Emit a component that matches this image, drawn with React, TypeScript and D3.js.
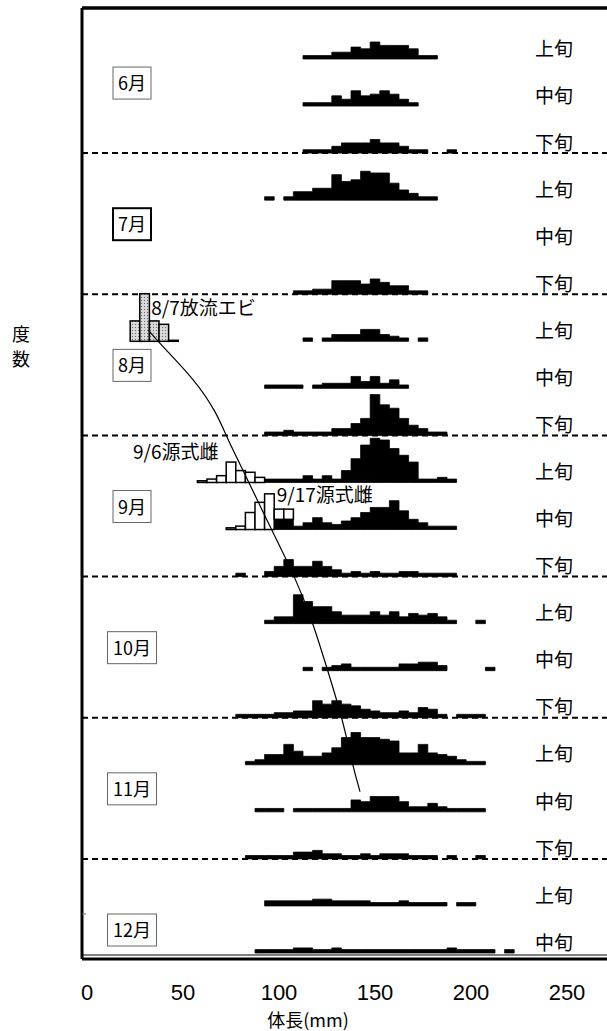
import * as d3 from "d3";

const W = 607;
const H = 1031;

const months = ["6月", "7月", "8月", "9月", "10月", "11月", "12月"];
const periods = ["上旬", "中旬", "下旬"];
const xTicks = [0, 50, 100, 150, 200, 250];

// 5mm bins, first value is the bin centred on rowStart[i]
const rowStart = [115, 115, 115, 95, 0, 110, 115, 95, 95, 95, 100, 80, 95, 115, 80, 85, 90, 85, 95, 90];
const jun1 = [1, 1, 1, 2, 2, 3.5, 3, 5, 4, 4, 4, 3, 1, 1];
const jun2 = [1, 1, 1, 3, 2, 4.5, 3, 3.5, 4.5, 3.5, 2, 1];
const jun3 = [1, 1, 1, 2, 3, 3, 3, 4, 3, 3, 2, 1, 1, 0, 0, 1];
const jul1 = [1, 0, 1, 2.5, 2.5, 3.5, 3.5, 7.5, 5.5, 6, 8.5, 8, 8, 5, 3, 2, 1, 1];
const jul2: number[] = [];
const jul3 = [1, 1, 1.5, 1.5, 4, 4, 4, 3, 4.5, 3.5, 2.5, 2.5, 1, 1];
const aug1 = [1, 0, 1, 2, 2, 2, 3.5, 3.5, 2, 1.5, 1, 0, 1];
const aug2 = [1, 1, 1, 1, 0, 1, 1.5, 1.5, 1.5, 3.5, 2, 3.5, 1.5, 2.5, 1];
const aug3 = [1, 1, 1.5, 1, 1, 1, 1, 2, 2, 3.5, 5, 12, 9, 8, 5, 3, 2, 1, 1];
const sep1 = [1, 1, 1, 1, 2, 1, 2, 1, 3.5, 7, 11, 13, 12.5, 10, 8, 6, 1, 1, 1.5, 1];
const sep2 = [3, 3, 1, 2, 3.5, 2, 1.5, 2.5, 3.5, 5, 6.5, 6.5, 8.5, 5.5, 3, 2, 1, 1, 1];
const sep3 = [1, 0, 0, 1.5, 3, 5, 3, 3, 4.5, 3, 2, 1, 1.5, 1, 1.5, 1, 1, 1.5, 1.5, 1, 1, 1, 1];
const oct1 = [1, 2, 2, 8.5, 6.5, 5, 5, 3.5, 2.5, 2.5, 2.5, 3.5, 2.5, 3.5, 2, 3, 2.5, 3, 2, 1, 0, 0, 1];
const oct2 = [1, 0, 1, 1.5, 2, 1, 1, 1, 1, 1, 2, 2, 2.5, 2.5, 1.5, 0, 0, 0, 0, 1];
const oct3 = [1, 1, 1, 1, 1.5, 1.5, 2, 2, 5, 4, 5, 4, 3.5, 2.5, 2, 1.5, 1.5, 2, 1.5, 3, 2.5, 1, 0, 1, 1, 1];
const nov1 = [1, 1.5, 3, 3, 6, 4, 2.5, 2.5, 3.5, 5, 8, 9.5, 8, 8, 7.5, 7, 3.5, 3.5, 6, 3.5, 3, 2.5, 1.5, 1, 1];
const nov2 = [1, 1, 1, 0, 1, 1, 1, 1, 1, 1, 3.5, 3, 4.5, 4.5, 4.5, 3, 1.5, 1.5, 2.5, 1.5, 1, 1, 1, 1];
const nov3 = [1, 1, 1, 1, 1, 2, 2, 2.5, 1.5, 1.5, 1, 1, 1.5, 1, 1.5, 1.5, 1.5, 1, 1, 1, 0, 1, 0, 0, 1];
const dec1 = [1.5, 1.5, 1.5, 1.5, 1.5, 2, 2, 1.5, 1.5, 1.5, 1.5, 1, 1, 1, 1.5, 1, 1, 1, 1, 0, 1, 1];
const dec2 = [1, 1, 1, 1, 1.5, 1.5, 1, 1, 1.5, 1, 1, 1, 1, 1, 1, 1, 1, 1, 1, 1, 1.5, 1, 1, 1, 1, 0, 1];
const wild = [jun1, jun2, jun3, jul1, jul2, jul3, aug1, aug2, aug3, sep1, sep2, sep3, oct1, oct2, oct3, nov1, nov2, nov3, dec1, dec2];

// 8/7 放流エビ (8月上旬 row)
const releaseRow = 6;
const releaseStart = 25;
const release = [6, 14, 6, 5, 0.3];

// 源式雌
const gen6Row = 9;
const gen6Start = 60;
const gen6 = [0.5, 1, 2, 6, 3.5, 3, 1.5];
const gen17Row = 10;
const gen17Start = 75;
const gen17 = [0.5, 1, 5, 8, 10.5, 3, 3];

// growth line (row position, mm)
const growthRow = [5.76, 6.01, 6.82, 7.52, 8.1, 8.74, 9.8, 11.07, 11.99, 12.92, 14.05, 15.04, 15.57];
const growthMm = [31.9, 37, 56.3, 67.6, 73.4, 81.3, 93.6, 109.2, 117.7, 124.8, 133.3, 138.5, 142.2];

const jp = "'Noto Sans CJK JP', sans-serif";

export default function App() {
  const x = d3.scaleLinear().domain([0, 250]).range([87, 567]);
  const yRow = d3.scaleLinear().domain([0, 19]).range([59, 953]);
  const h = d3.scaleLinear().domain([0, 1]).range([0, 3.4]);
  const left = 82;
  const top = 8;
  const bottom = 959;

  const valueAt = (row: number, mm: number) => {
    const i = Math.round((mm - rowStart[row]) / 5);
    const arr = wild[row];
    return i >= 0 && i < arr.length ? arr[i] : 0;
  };

  // one stepped shape per run of non-empty bins
  const stepPaths = (start: number, counts: number[], base: number) => {
    const runs: [number, number][][] = [];
    let cur: [number, number][] = [];
    counts.forEach((c, i) => {
      if (c > 0) cur.push([start + i * 5, c]);
      else if (cur.length) {
        runs.push(cur);
        cur = [];
      }
    });
    if (cur.length) runs.push(cur);
    const area = d3
      .area<[number, number]>()
      .x((d) => x(d[0]))
      .y0(base)
      .y1((d) => base - h(d[1]))
      .curve(d3.curveStepAfter);
    return runs.map((run) => {
      const pts = run.map((d) => [d[0] - 2.5, d[1]] as [number, number]);
      const last = run[run.length - 1];
      pts.push([last[0] + 2.5, last[1]]);
      return area(pts) || "";
    });
  };

  const bars = (row: number, start: number, counts: number[], stacked: boolean) =>
    counts.map((c, i) => {
      const mm = start + i * 5;
      const base = yRow(row) - (stacked ? h(valueAt(row, mm)) : 0);
      return { x0: x(mm - 2.5), x1: x(mm + 2.5), y: base - h(c), hh: h(c) };
    });

  const growth = d3
    .line<number>()
    .x((_, i) => x(growthMm[i]))
    .y((d) => yRow(d))
    .curve(d3.curveBasis)(growthRow) || "";

  const dividers = d3.range(2, 18, 3);

  return (
    <svg
      width={W}
      height={H}
      style={{ position: "absolute", left: 0, top: 0, background: "#fff" }}
    >
      <defs>
        <pattern id="dots" width="3" height="3" patternUnits="userSpaceOnUse">
          <rect width="3" height="3" fill="#d9d9d9" />
          <rect width="1" height="1" fill="#666" />
        </pattern>
      </defs>

      {dividers.map((r) => (
        <line
          key={r}
          x1={left}
          x2={W}
          y1={yRow(r)}
          y2={yRow(r)}
          stroke="#000"
          strokeWidth={2}
          strokeDasharray="6,4"
        />
      ))}

      {wild.map((counts, r) =>
        stepPaths(rowStart[r], counts, yRow(r)).map((d, k) => (
          <path key={r + "-" + k} d={d} fill="#000" stroke="#000" strokeWidth={0.8} strokeLinejoin="round" />
        ))
      )}

      {bars(releaseRow, releaseStart, release, false).map((b, i) => (
        <rect key={"r" + i} x={b.x0} y={b.y} width={b.x1 - b.x0} height={b.hh} fill="url(#dots)" stroke="#000" strokeWidth={1.5} />
      ))}
      {bars(gen6Row, gen6Start, gen6, true).map((b, i) => (
        <rect key={"a" + i} x={b.x0} y={b.y} width={b.x1 - b.x0} height={b.hh} fill="#fff" stroke="#000" strokeWidth={1.5} />
      ))}
      {bars(gen17Row, gen17Start, gen17, true).map((b, i) => (
        <rect key={"b" + i} x={b.x0} y={b.y} width={b.x1 - b.x0} height={b.hh} fill="#fff" stroke="#000" strokeWidth={1.5} />
      ))}

      <path d={growth} fill="none" stroke="#000" strokeWidth={1.2} />

      {wild.map((_, r) => (
        <text key={"p" + r} x={535} y={yRow(r) - 3.3} fontFamily={jp} fontSize={19} fill="#000">
          {periods[r % 3]}
        </text>
      ))}

      {months.map((m, i) => {
        const cy = yRow(i * 3 + 1) - 23;
        const w = m.length > 2 ? 49 : 38;
        const bold = m === "7月";
        return (
          <g key={m}>
            <rect x={132 - w / 2} y={cy - 16} width={w} height={32} fill="#fff" stroke={bold ? "#000" : "#666"} strokeWidth={bold ? 2 : 1} />
            <text x={132} y={cy + 7} textAnchor="middle" fontFamily={jp} fontSize={18}>
              {m}
            </text>
          </g>
        );
      })}

      <text x={x(33.5)} y={yRow(releaseRow) - 26} fontFamily={jp} fontSize={19}>8/7放流エビ</text>
      <text x={x(24)} y={yRow(gen6Row) - 23.5} fontFamily={jp} fontSize={19}>9/6源式雌</text>
      <text x={x(98.8)} y={yRow(gen17Row) - 28} fontFamily={jp} fontSize={19}>9/17源式雌</text>

      <line x1={left} x2={W} y1={top} y2={top} stroke="#000" strokeWidth={3.5} />
      <line x1={left} x2={left} y1={top} y2={bottom} stroke="#000" strokeWidth={3} />
      <line x1={left} x2={W} y1={955} y2={955} stroke="#000" strokeWidth={1} />
      <line x1={left} x2={W} y1={bottom} y2={bottom} stroke="#000" strokeWidth={3} />
      <line x1={left} x2={left + 4} y1={914} y2={914} stroke="#777" strokeWidth={1} />

      {xTicks.map((t) => (
        <text key={t} x={x(t)} y={1000} textAnchor="middle" fontFamily="'Liberation Sans', Arial, sans-serif" fontSize={22}>
          {t}
        </text>
      ))}
      <text x={308} y={1027} textAnchor="middle" fontFamily={jp} fontSize={18}>体長(mm)</text>

      <text x={21} y={341} textAnchor="middle" fontFamily={jp} fontSize={18}>度</text>
      <text x={21} y={366} textAnchor="middle" fontFamily={jp} fontSize={18}>数</text>
    </svg>
  );
}
